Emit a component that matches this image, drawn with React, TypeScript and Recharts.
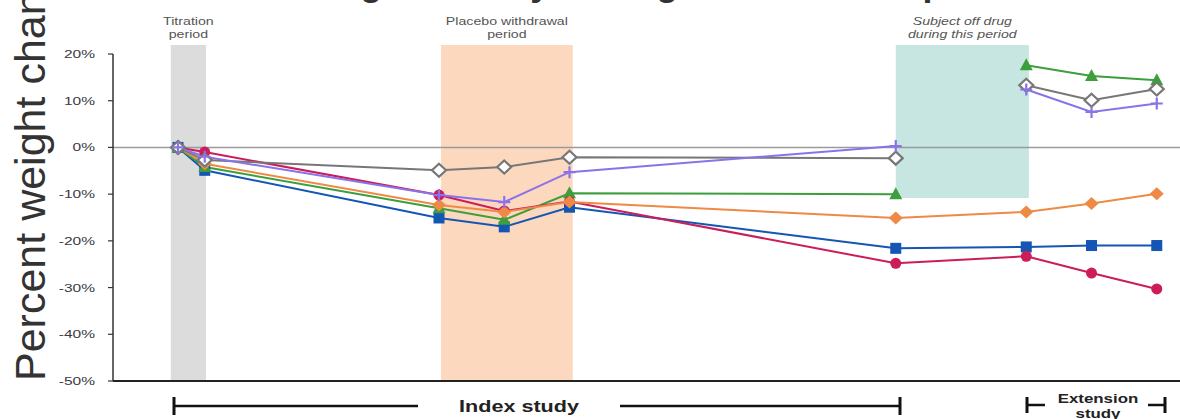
import React from 'react';
import { LineChart, Line, XAxis, YAxis, ReferenceArea, ReferenceLine } from 'recharts';

// time points (months) and percent weight change per subject
const timePoints = [0, 0.41, 4, 5, 6, 11, 13, 14, 15];
const redSeries = [0, -1.0, -10.2, -13.6, -11.6, -24.8, -23.3, -26.9, -30.3];
const blueSeries = [0, -4.9, -15.1, -17.0, -12.8, -21.6, -21.3, -21.0, -21.0];
const orangeSeries = [0, -3.5, -12.3, -13.8, -11.7, -15.1, -13.8, -12.0, -9.9];
const greenSeries = [0, -4.2, -13.0, -15.5, -9.8, -10.0, null, null, null];
const greenExtension = [null, null, null, null, null, null, 17.6, 15.3, 14.4];
const graySeries = [0, -2.7, -4.9, -4.2, -2.1, -2.3, null, null, null];
const grayExtension = [null, null, null, null, null, null, 13.3, 10.1, 12.5];
const purpleSeries = [0, -2.0, -10.2, -11.7, -5.3, 0.3, null, null, null];
const purpleExtension = [null, null, null, null, null, null, 12.4, 7.6, 9.4];

const yTicks = [20, 10, 0, -10, -20, -30, -40, -50];

const data = timePoints.map((t, i) => ({
  t,
  red: redSeries[i],
  blue: blueSeries[i],
  orange: orangeSeries[i],
  green: greenSeries[i],
  greenExt: greenExtension[i],
  gray: graySeries[i],
  grayExt: grayExtension[i],
  purple: purpleSeries[i],
  purpleExt: purpleExtension[i],
}));

const FONT = '"Liberation Sans", Arial, Helvetica, sans-serif';
const STRETCH = 1.35;

const makeDot = (shape: string, color: string, name: string) => (props: any) => {
  const { cx, cy, index } = props;
  const key = `${name}-${index}`;
  if (cx == null || cy == null || props.value == null) return <g key={key} />;
  if (shape === 'circle') return <circle key={key} cx={cx} cy={cy} r={5.5} fill={color} />;
  if (shape === 'square') return <rect key={key} x={cx - 5.5} y={cy - 5.5} width={11} height={11} fill={color} />;
  if (shape === 'triangle')
    return <polygon key={key} points={`${cx},${cy - 7} ${cx - 6.5},${cy + 5} ${cx + 6.5},${cy + 5}`} fill={color} />;
  if (shape === 'diamond')
    return <polygon key={key} points={`${cx},${cy - 6.5} ${cx + 7},${cy} ${cx},${cy + 6.5} ${cx - 7},${cy}`} fill={color} />;
  if (shape === 'hollowDiamond')
    return (
      <polygon key={key} points={`${cx},${cy - 6.5} ${cx + 7},${cy} ${cx},${cy + 6.5} ${cx - 7},${cy}`}
        fill="#fff" stroke={color} strokeWidth={2.2} />
    );
  return (
    <path key={key} d={`M${cx - 6},${cy}H${cx + 6}M${cx},${cy - 6}V${cy + 6}`} stroke={color} strokeWidth={2.2} fill="none" />
  );
};

const YTick = (props: any) => {
  const { x, y, payload } = props;
  return (
    <text transform={`translate(${x},${y + 4}) scale(${STRETCH},1)`} textAnchor="end" fontSize={11.5}
      fill="#3a3a44" fontFamily={FONT}>
      {`${payload.value}%`}
    </text>
  );
};

const BandLabel = (props: any) => {
  const { viewBox, lines, italic } = props;
  if (!viewBox) return null;
  const cx = viewBox.x + viewBox.width / 2;
  return (
    <g>
      {lines.map((line: string, i: number) => (
        <text key={i} transform={`translate(${cx},${viewBox.y - 20 + i * 12.5}) scale(${STRETCH},1)`}
          textAnchor="middle" fontSize={10.5} fill="#555" fontStyle={italic ? 'italic' : 'normal'} fontFamily={FONT}>
          {line}
        </text>
      ))}
    </g>
  );
};

const series = [
  { key: 'blue', color: '#1456b4', shape: 'square' },
  { key: 'green', color: '#3c9e3c', shape: 'triangle' },
  { key: 'greenExt', color: '#3c9e3c', shape: 'triangle' },
  { key: 'red', color: '#cc1c5a', shape: 'circle' },
  { key: 'orange', color: '#ee8a45', shape: 'diamond' },
  { key: 'gray', color: '#777777', shape: 'hollowDiamond' },
  { key: 'grayExt', color: '#777777', shape: 'hollowDiamond' },
  { key: 'purple', color: '#8a72e8', shape: 'plus' },
  { key: 'purpleExt', color: '#8a72e8', shape: 'plus' },
];

export default function App() {
  return (
    <div style={{ position: 'absolute', left: 0, top: 0, width: 1180, height: 419, background: '#fff', overflow: 'hidden' }}>
      <LineChart width={1180} height={419} data={data} margin={{ top: 54, right: 0, bottom: 38, left: 0 }}>
        <XAxis dataKey="t" type="number" domain={[-0.996, 15.356]} allowDataOverflow hide />
        <YAxis
          width={113}
          domain={[-50, 20]}
          ticks={yTicks}
          interval={0}
          tickSize={5}
          tickMargin={13}
          tick={<YTick />}
          axisLine={{ stroke: '#333', strokeWidth: 1.5 }}
          tickLine={{ stroke: '#333', strokeWidth: 1.2 }}
        />
        <ReferenceArea x1={-0.11} x2={0.43} y1={-50} y2={21.9} fill="#dcdcdc" fillOpacity={1} stroke="none"
          ifOverflow="visible" label={<BandLabel lines={['Titration', 'period']} />} />
        <ReferenceArea x1={4.03} x2={6.05} y1={-50} y2={21.9} fill="#fcd8be" fillOpacity={1} stroke="none"
          ifOverflow="visible" label={<BandLabel lines={['Placebo withdrawal', 'period']} />} />
        <ReferenceArea x1={11.0} x2={13.04} y1={-10.8} y2={21.9} fill="#c7e6e1" fillOpacity={1} stroke="none"
          ifOverflow="visible" label={<BandLabel lines={['Subject off drug', 'during this period']} italic />} />
        <ReferenceLine y={0} stroke="#9a9a9a" strokeWidth={1.5} />
        <ReferenceLine y={-50} stroke="#222" strokeWidth={2} />
        {series.map((s) => (
          <Line
            key={s.key}
            dataKey={s.key}
            stroke={s.color}
            strokeWidth={2}
            type="linear"
            dot={makeDot(s.shape, s.color, s.key)}
            activeDot={false}
            isAnimationActive={false}
            connectNulls={false}
          />
        ))}
      </LineChart>
      <svg width={1180} height={419} style={{ position: 'absolute', left: 0, top: 0, pointerEvents: 'none' }}>
        <text x={297} y={-5} fontSize={36} fontWeight="bold" fill="#333" fontFamily={FONT}>
          Weight loss by dosing arm and time period
        </text>
        <text x={45} y={381} transform="rotate(-90 45 381)" fontSize={43} fill="#333" fontFamily={FONT}>
          Percent weight change
        </text>
        {/* index study bracket */}
        <line x1={174} y1={406} x2={418} y2={406} stroke="#111" strokeWidth={2.5} />
        <line x1={620} y1={406} x2={900} y2={406} stroke="#111" strokeWidth={2.5} />
        <line x1={174} y1={397} x2={174} y2={415} stroke="#111" strokeWidth={3} />
        <line x1={900} y1={397} x2={900} y2={415} stroke="#111" strokeWidth={3} />
        <text transform={`translate(519,412) scale(${STRETCH},1)`} textAnchor="middle" fontSize={16}
          fontWeight="bold" fill="#222" fontFamily={FONT}>
          Index study
        </text>
        {/* extension study bracket */}
        <line x1={1027} y1={405} x2={1045} y2={405} stroke="#111" strokeWidth={2.5} />
        <line x1={1027} y1={397} x2={1027} y2={413} stroke="#111" strokeWidth={3} />
        <line x1={1148} y1={405} x2={1165} y2={405} stroke="#111" strokeWidth={2.5} />
        <line x1={1165} y1={397} x2={1165} y2={413} stroke="#111" strokeWidth={3} />
        <text transform={`translate(1098,403) scale(${STRETCH},1)`} textAnchor="middle" fontSize={12.5}
          fontWeight="bold" fill="#222" fontFamily={FONT}>
          Extension
        </text>
        <text transform={`translate(1098,418) scale(${STRETCH},1)`} textAnchor="middle" fontSize={12.5}
          fontWeight="bold" fill="#222" fontFamily={FONT}>
          study
        </text>
      </svg>
    </div>
  );
}
